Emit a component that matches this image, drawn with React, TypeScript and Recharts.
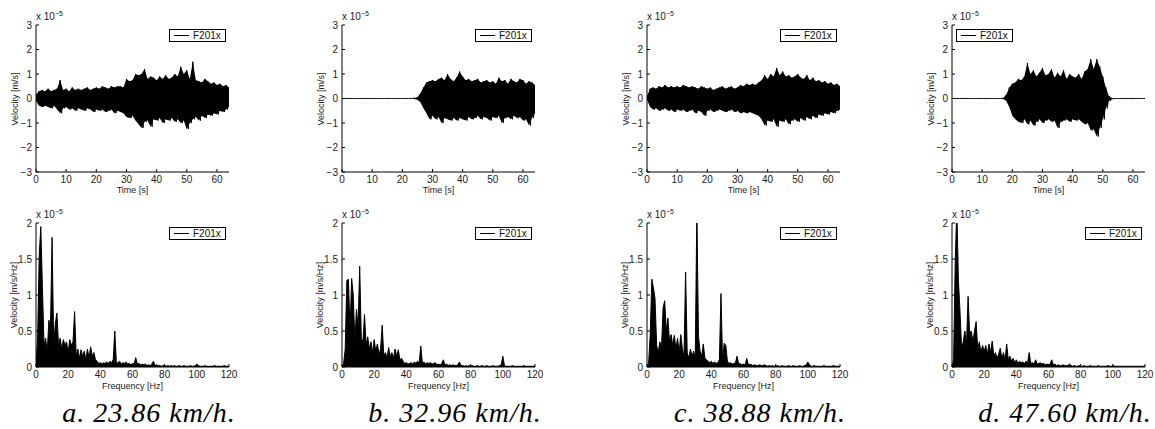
import React from 'react';
import { ComposedChart, Line, AreaChart, Area, XAxis, YAxis } from 'recharts';

const FONT = '"Liberation Sans", Arial, Helvetica, sans-serif';
const SERIF = '"Liberation Serif", "Times New Roman", serif';

const TIME_TICKS = [0, 10, 20, 30, 40, 50, 60];
const FREQ_TICKS = [0, 20, 40, 60, 80, 100, 120];
const VEL_TICKS = [-3, -2, -1, 0, 1, 2, 3];
const SPEC_TICKS = [0, 0.5, 1, 1.5, 2];

const CAPTIONS = ['a. 23.86 km/h.', 'b. 32.96 km/h.', 'c. 38.88 km/h.', 'd. 47.60 km/h.'];
const SERIES_NAME = 'F201x';

// time signals, 1 s steps (0..64 s), upper / lower swing, units of 1e-5 m/s
const hiA = [0.15, 0.3, 0.35, 0.3, 0.4, 0.3, 0.35, 0.4, 0.75, 0.35, 0.4, 0.3, 0.45, 0.35, 0.4, 0.35, 0.4, 0.45, 0.35, 0.4, 0.45, 0.4, 0.5, 0.45, 0.4, 0.5, 0.45, 0.5, 0.5, 0.45, 0.8, 0.7, 0.75, 1.0, 0.95, 1.0, 1.2, 0.8, 0.9, 0.85, 0.75, 0.9, 0.8, 0.95, 0.8, 0.85, 1.0, 0.9, 1.3, 1.0, 1.15, 0.8, 1.5, 0.75, 0.7, 0.65, 0.8, 0.7, 0.6, 0.65, 0.55, 0.6, 0.5, 0.55, 0.45];
const loA = [-0.1, -0.3, -0.35, -0.3, -0.35, -0.4, -0.3, -0.45, -0.6, -0.4, -0.35, -0.45, -0.4, -0.5, -0.4, -0.45, -0.5, -0.4, -0.45, -0.55, -0.45, -0.5, -0.45, -0.55, -0.5, -0.45, -0.6, -0.5, -0.55, -0.6, -0.75, -0.8, -0.7, -0.9, -1.05, -1.2, -0.95, -0.9, -1.15, -0.85, -0.9, -0.8, -1.0, -0.85, -0.9, -0.8, -0.95, -0.85, -1.0, -0.9, -1.25, -1.0, -0.85, -0.75, -0.9, -0.7, -0.8, -0.65, -0.7, -0.6, -0.65, -0.5, -0.55, -0.45, -0.35];

const hiB = [0, 0, 0, 0, 0, 0, 0, 0, 0, 0, 0, 0, 0, 0, 0, 0, 0, 0, 0, 0, 0, 0, 0, 0, 0.02, 0.05, 0.2, 0.45, 0.65, 0.7, 0.75, 0.7, 0.8, 0.85, 0.75, 1.0, 0.8, 0.7, 0.85, 1.1, 0.9, 0.75, 0.8, 0.7, 0.75, 0.8, 0.65, 0.7, 0.75, 0.65, 0.7, 0.6, 0.85, 0.7, 0.75, 0.6, 0.8, 0.7, 0.65, 0.8, 0.75, 0.6, 0.7, 0.65, 0.55];
const loB = [0, 0, 0, 0, 0, 0, 0, 0, 0, 0, 0, 0, 0, 0, 0, 0, 0, 0, 0, 0, 0, 0, 0, 0, -0.02, -0.05, -0.15, -0.4, -0.6, -0.85, -0.7, -0.85, -0.75, -1.0, -0.8, -0.85, -0.9, -0.8, -0.9, -0.8, -0.85, -0.9, -0.75, -0.85, -0.8, -0.7, -0.85, -0.75, -0.8, -0.9, -0.75, -0.8, -0.7, -1.0, -0.8, -0.75, -0.85, -0.7, -0.8, -0.75, -0.9, -0.85, -1.1, -0.8, -0.6];

const hiC = [0.1, 0.4, 0.45, 0.4, 0.5, 0.45, 0.55, 0.45, 0.5, 0.45, 0.5, 0.45, 0.55, 0.5, 0.45, 0.5, 0.45, 0.4, 0.5, 0.45, 0.4, 0.45, 0.35, 0.4, 0.45, 0.5, 0.4, 0.45, 0.5, 0.4, 0.45, 0.55, 0.5, 0.6, 0.55, 0.6, 0.55, 0.65, 0.75, 0.95, 0.8, 1.0, 0.9, 1.25, 0.95, 1.1, 0.9, 0.95, 0.85, 0.9, 1.0, 0.85, 0.8, 0.95, 0.75, 0.85, 0.7, 0.75, 0.65, 0.7, 0.6, 0.65, 0.55, 0.6, 0.5];
const loC = [-0.05, -0.35, -0.45, -0.4, -0.5, -0.45, -0.4, -0.5, -0.45, -0.55, -0.45, -0.5, -0.45, -0.55, -0.5, -0.45, -0.6, -0.5, -0.55, -0.7, -0.5, -0.45, -0.55, -0.5, -0.45, -0.5, -0.55, -0.5, -0.45, -0.55, -0.5, -0.6, -0.55, -0.6, -0.55, -0.6, -0.65, -0.7, -0.85, -1.1, -0.9, -0.95, -0.85, -1.15, -0.9, -0.95, -0.85, -1.05, -0.9, -0.85, -0.95, -0.8, -0.9, -0.75, -0.85, -0.7, -0.8, -0.65, -0.7, -0.6, -0.65, -0.55, -0.6, -0.5, -0.45];

const hiD = [0, 0, 0, 0, 0, 0, 0, 0, 0, 0, 0, 0, 0, 0, 0, 0, 0, 0.02, 0.15, 0.45, 0.6, 0.65, 0.8, 0.75, 0.9, 1.45, 1.0, 1.15, 0.9, 1.05, 1.25, 0.95, 1.0, 1.2, 0.85, 1.05, 0.9, 1.15, 0.8, 1.0, 0.9, 0.85, 1.0, 0.8, 1.1, 1.2, 1.6, 1.2, 1.6, 1.3, 0.9, 0.45, 0.1, 0.02, 0, 0, 0, 0, 0, 0, 0, 0, 0, 0, 0];
const loD = [0, 0, 0, 0, 0, 0, 0, 0, 0, 0, 0, 0, 0, 0, 0, 0, 0, -0.02, -0.1, -0.35, -0.7, -0.85, -0.95, -1.0, -0.85, -1.05, -0.9, -1.1, -0.95, -0.85, -1.0, -0.9, -0.85, -0.95, -0.9, -1.2, -0.95, -0.9, -0.85, -0.95, -0.85, -0.9, -0.85, -0.95, -1.05, -1.0, -1.3, -1.25, -1.55, -1.2, -0.85, -0.4, -0.1, -0.02, 0, 0, 0, 0, 0, 0, 0, 0, 0, 0, 0];

// spectra, 1 Hz steps (0..120 Hz), units of 1e-5 m/s/Hz
const specA = [
  0, 0.4, 1.55, 1.95, 1.1, 0.3, 0.4, 0.2, 0.65, 0.55,
  1.8, 0.3, 0.6, 0.75, 0.3, 0.4, 0.25, 0.38, 0.3, 0.35,
  0.2, 0.38, 0.3, 0.35, 0.77, 0.15, 0.25, 0.12, 0.24, 0.15,
  0.22, 0.1, 0.25, 0.12, 0.28, 0.15, 0.2, 0.1, 0.08, 0.05,
  0.06, 0.04, 0.06, 0.05, 0.07, 0.05, 0.08, 0.06, 0.1, 0.5,
  0.05, 0.06, 0.08, 0.04, 0.06, 0.05, 0.07, 0.04, 0.05, 0.03,
  0.05, 0.04, 0.13, 0.04, 0.05, 0.03, 0.04, 0.03, 0.04, 0.02,
  0.03, 0.02, 0.04, 0.08, 0.02, 0.03, 0.02, 0.02, 0.01, 0.02,
  0.02, 0.01, 0.02, 0.01, 0.02, 0.01, 0.02, 0.01, 0.01, 0.02,
  0.01, 0.01, 0.02, 0.01, 0.01, 0.01, 0.02, 0.01, 0.01, 0.02,
  0.04, 0.02, 0.01, 0.01, 0.01, 0.02, 0.01, 0.01, 0.01, 0.01,
  0.01, 0.02, 0.01, 0.01, 0.01, 0.01, 0.01, 0.02, 0.01, 0.01, 0.01,
];
const specB = [
  0, 0.05, 0.25, 1.2, 1.22, 0.5, 1.23, 1.0, 0.35, 0.8,
  0.55, 1.4, 0.4, 0.35, 0.73, 0.3, 0.42, 0.25, 0.35, 0.2,
  0.38, 0.22, 0.32, 0.18, 0.25, 0.58, 0.15, 0.2, 0.12, 0.27,
  0.14, 0.2, 0.12, 0.25, 0.15, 0.24, 0.1, 0.12, 0.08, 0.05,
  0.06, 0.04, 0.05, 0.06, 0.04, 0.07, 0.05, 0.08, 0.06, 0.29,
  0.05, 0.07, 0.04, 0.06, 0.05, 0.06, 0.04, 0.05, 0.06, 0.03,
  0.04, 0.03, 0.05, 0.1, 0.03, 0.04, 0.02, 0.03, 0.02, 0.03,
  0.02, 0.02, 0.03, 0.07, 0.02, 0.02, 0.01, 0.02, 0.01, 0.02,
  0.01, 0.02, 0.01, 0.01, 0.02, 0.01, 0.01, 0.02, 0.01, 0.01,
  0.02, 0.01, 0.01, 0.01, 0.02, 0.01, 0.01, 0.01, 0.02, 0.03,
  0.15, 0.02, 0.01, 0.01, 0.01, 0.01, 0.02, 0.01, 0.01, 0.01,
  0.01, 0.01, 0.01, 0.02, 0.01, 0.01, 0.01, 0.01, 0.01, 0.01, 0.01,
];
const specC = [
  0, 0.05, 0.45, 1.22, 1.1, 0.95, 0.3, 0.2, 0.35, 0.25,
  0.82, 0.92, 0.5, 0.68, 0.35, 0.45, 0.3, 0.44, 0.25, 0.4,
  0.2, 0.45, 0.25, 0.15, 1.32, 0.2, 0.12, 0.25, 0.15, 0.22,
  0.12, 2.2, 0.43, 0.22, 0.15, 0.32, 0.12, 0.1, 0.08, 0.06,
  0.08, 0.05, 0.07, 0.05, 0.06, 0.1, 1.02, 0.06, 0.33, 0.3,
  0.08, 0.05, 0.06, 0.04, 0.05, 0.06, 0.15, 0.04, 0.05, 0.03,
  0.04, 0.03, 0.12, 0.03, 0.04, 0.03, 0.02, 0.03, 0.02, 0.02,
  0.03, 0.02, 0.02, 0.03, 0.02, 0.01, 0.02, 0.01, 0.02, 0.01,
  0.01, 0.02, 0.01, 0.01, 0.02, 0.01, 0.01, 0.01, 0.02, 0.01,
  0.01, 0.02, 0.01, 0.01, 0.01, 0.02, 0.01, 0.01, 0.02, 0.03,
  0.07, 0.03, 0.01, 0.01, 0.02, 0.01, 0.01, 0.01, 0.01, 0.01,
  0.02, 0.01, 0.01, 0.01, 0.01, 0.01, 0.02, 0.01, 0.01, 0.01, 0.01,
];
const specD = [
  0, 0.1, 1.47, 2.2, 1.2, 0.76, 0.25, 0.35, 0.5, 0.3,
  0.98, 0.45, 0.5, 0.35, 0.5, 0.63, 0.25, 0.35, 0.2, 0.3,
  0.22, 0.3, 0.18, 0.32, 0.2, 0.36, 0.15, 0.2, 0.12, 0.18,
  0.26, 0.12, 0.2, 0.1, 0.32, 0.1, 0.15, 0.08, 0.12, 0.06,
  0.1, 0.05, 0.08, 0.06, 0.07, 0.05, 0.08, 0.06, 0.2, 0.05,
  0.06, 0.04, 0.1, 0.04, 0.05, 0.06, 0.04, 0.05, 0.03, 0.04,
  0.03, 0.04, 0.1, 0.03, 0.04, 0.02, 0.03, 0.02, 0.02, 0.03,
  0.02, 0.02, 0.02, 0.04, 0.02, 0.01, 0.02, 0.01, 0.01, 0.02,
  0.01, 0.01, 0.02, 0.01, 0.01, 0.01, 0.02, 0.01, 0.01, 0.01,
  0.01, 0.02, 0.01, 0.01, 0.01, 0.01, 0.01, 0.02, 0.01, 0.01,
  0.02, 0.01, 0.01, 0.01, 0.01, 0.01, 0.01, 0.01, 0.01, 0.01,
  0.01, 0.01, 0.01, 0.01, 0.01, 0.01, 0.01, 0.01, 0.01, 0.01, 0.01,
];

const PLOT_LEFTS = [36, 342, 647, 952];
const PW = 193;
const TOP_Y = 25;
const TOP_H = 147;
const BOT_Y = 223;
const BOT_H = 144;

// zig-zag trace: swing up at whole seconds, down half a second later
const toTrace = (hi: number[], lo: number[]) =>
  hi.flatMap((h, i) => [
    { t: i, v: h, band: [lo[i], h] },
    { t: i + 0.5, v: lo[i] },
  ]);
const toSpec = (s: number[]) => s.map((v, i) => ({ f: i, v }));

const TRACES = [toTrace(hiA, loA), toTrace(hiB, loB), toTrace(hiC, loC), toTrace(hiD, loD)];
const SPECTRA = [toSpec(specA), toSpec(specB), toSpec(specC), toSpec(specD)];

const fmt = (v: number) => (v < 0 ? `\u2212${Math.abs(v)}` : `${v}`);
const tickStyle = { fontSize: 10, fill: '#1a1a1a', fontFamily: FONT };

function Axes({ xKey, xDomain, xTicks, yDomain, yTicks }: any) {
  return [
    <XAxis key="xb" dataKey={xKey} type="number" domain={xDomain} ticks={xTicks} interval={0}
      allowDataOverflow stroke="#000" tick={tickStyle} tickSize={-3} tickMargin={7} height={25} />,
    <XAxis key="xt" xAxisId="top" orientation="top" dataKey={xKey} type="number" domain={xDomain}
      ticks={xTicks} interval={0} allowDataOverflow stroke="#000" tick={false} tickSize={-3} height={0} />,
    <YAxis key="yl" type="number" domain={yDomain} ticks={yTicks} interval={0} allowDataOverflow
      stroke="#000" tick={tickStyle} tickFormatter={fmt} tickSize={-3} tickMargin={7} width={40} />,
    <YAxis key="yr" yAxisId="right" orientation="right" type="number" domain={yDomain} ticks={yTicks}
      interval={0} allowDataOverflow stroke="#000" tick={false} tickSize={-3} width={0} />,
  ];
}

function TimePanel({ left, data }: { left: number; data: any[] }) {
  return (
    <div style={{ position: 'absolute', left: left - 40, top: TOP_Y - 25 }}>
      <ComposedChart width={40 + PW + 10} height={25 + TOP_H + 25} data={data}
        margin={{ top: 25, right: 10, bottom: 0, left: 0 }}>
        {Axes({ xKey: 't', xDomain: [0, 64], xTicks: TIME_TICKS, yDomain: [-3, 3], yTicks: VEL_TICKS })}
        <Area type="linear" dataKey="band" stroke="none" fill="#000" fillOpacity={1} connectNulls
          dot={false} activeDot={false} isAnimationActive={false} />
        <Line type="linear" dataKey="v" stroke="#000" strokeWidth={1} dot={false} activeDot={false}
          isAnimationActive={false} />
      </ComposedChart>
    </div>
  );
}

function SpecPanel({ left, data }: { left: number; data: { f: number; v: number }[] }) {
  return (
    <div style={{ position: 'absolute', left: left - 40, top: BOT_Y - 25 }}>
      <AreaChart width={40 + PW + 10} height={25 + BOT_H + 25} data={data}
        margin={{ top: 25, right: 10, bottom: 0, left: 0 }}>
        {Axes({ xKey: 'f', xDomain: [0, 120], xTicks: FREQ_TICKS, yDomain: [0, 2], yTicks: SPEC_TICKS })}
        <Area type="linear" dataKey="v" stroke="#000" strokeWidth={1} fill="#000" fillOpacity={1}
          baseValue={0} dot={false} activeDot={false} isAnimationActive={false} />
      </AreaChart>
    </div>
  );
}

function LegendBox({ left, top }: { left: number; top: number }) {
  return (
    <div style={{
      position: 'absolute', left, top, width: 55, height: 11, border: '1px solid #000',
      background: '#fff', fontFamily: FONT, fontSize: 10, lineHeight: '11px', color: '#111',
    }}>
      <span style={{ position: 'absolute', left: 4, top: 5, width: 15, height: 1, background: '#000' }} />
      <span style={{ position: 'absolute', left: 23, top: 0 }}>{SERIES_NAME}</span>
    </div>
  );
}

function Exponent({ left, top }: { left: number; top: number }) {
  return (
    <div style={{ position: 'absolute', left, top, fontFamily: FONT, fontSize: 10, lineHeight: '10px', color: '#1a1a1a', whiteSpace: 'nowrap' }}>
      x 10<span style={{ fontSize: 7, position: 'relative', top: -4 }}>{'\u22125'}</span>
    </div>
  );
}

function YTitle({ x, y, text }: { x: number; y: number; text: string }) {
  return (
    <div style={{
      position: 'absolute', left: x, top: y, transform: 'translate(-50%, -50%) rotate(-90deg)',
      fontFamily: FONT, fontSize: 9, color: '#222', whiteSpace: 'nowrap', lineHeight: '10px',
    }}>{text}</div>
  );
}

function XTitle({ x, y, text }: { x: number; y: number; text: string }) {
  return (
    <div style={{
      position: 'absolute', left: x, top: y, transform: 'translate(-50%, -50%)',
      fontFamily: FONT, fontSize: 9, color: '#222', whiteSpace: 'nowrap', lineHeight: '10px',
    }}>{text}</div>
  );
}

export default function App() {
  return (
    <div style={{ position: 'absolute', left: 0, top: 0, width: 1155, height: 429, background: '#fff', overflow: 'hidden' }}>
      {PLOT_LEFTS.map((left, i) => (
        <React.Fragment key={i}>
          <TimePanel left={left} data={TRACES[i]} />
          <SpecPanel left={left} data={SPECTRA[i]} />
          <Exponent left={left} top={TOP_Y - 13} />
          <Exponent left={left} top={BOT_Y - 13} />
          <YTitle x={left - 21} y={TOP_Y + TOP_H / 2} text="Velocity [m/s]" />
          <YTitle x={left - 22} y={BOT_Y + BOT_H / 2} text="Velocity [m/s/Hz]" />
          <XTitle x={left + PW / 2} y={190} text="Time [s]" />
          <XTitle x={left + PW / 2} y={386} text="Frequency [Hz]" />
          <LegendBox left={i === 3 ? left + 4 : left + PW - 60} top={TOP_Y + 4} />
          <LegendBox left={left + PW - 60} top={BOT_Y + 4} />
          <div style={{
            position: 'absolute', left: left + 113 - 130, width: 260, top: 401, textAlign: 'center',
            fontFamily: SERIF, fontStyle: 'italic', fontSize: 28, lineHeight: '24px', color: '#000',
            letterSpacing: 1, whiteSpace: 'nowrap',
          }}>{CAPTIONS[i]}</div>
        </React.Fragment>
      ))}
    </div>
  );
}
